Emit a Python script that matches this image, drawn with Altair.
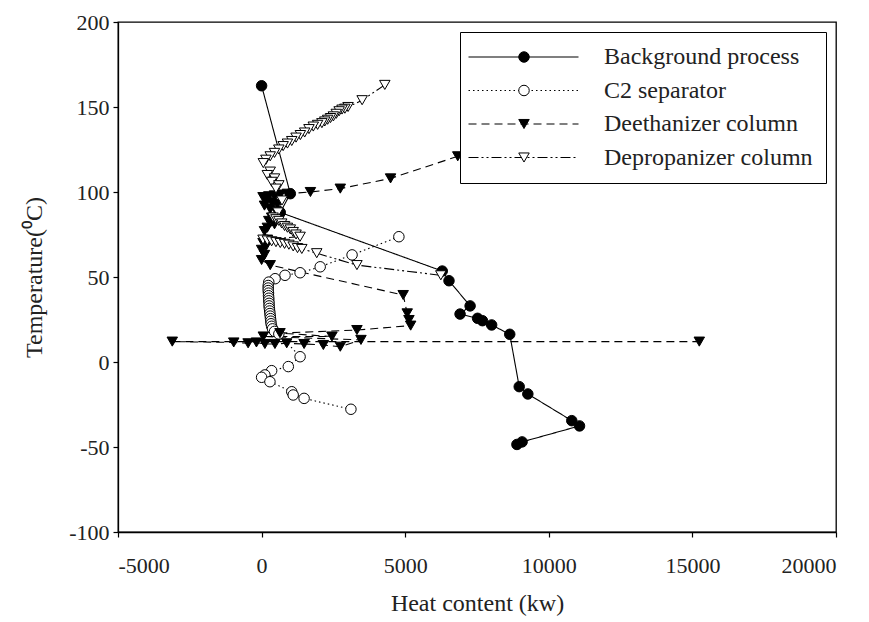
import altair as alt
import pandas as pd

series_names = ["Background process", "C2 separator", "Deethanizer column", "Depropanizer column"]
marker_names = [s + " " for s in series_names]

# Background process (filled circles, solid line)
bg_x = [0, 1000, 650, 6290, 6525, 7260, 6910, 7520, 7690, 8010, 8640, 8970, 9270, 10800, 11070, 9070, 8890]
bg_y = [162.5, 99, 88, 53.5, 47.8, 33, 28.2, 25.7, 24.3, 21.8, 16.3, -14.5, -18.8, -34.5, -37.6, -47, -48.5]

# C2 separator (open circles, dotted line)
c2_x = [4780, 3150, 2040, 1340, 815, 470, 250,
        230, 230, 230, 240, 240, 250, 250, 260, 260, 270, 280, 290, 300, 310, 320, 330, 350, 380, 450, 600,
        1340, 930, 350, 115, 0, 290, 1050, 1100, 1480, 3110]
c2_y = [73.7, 63, 56, 52.5, 51, 49, 47,
        45, 43.5, 42, 40.5, 39, 37.5, 36, 34.5, 33, 31.5, 30, 28.5, 27, 25.5, 24, 22.5, 21, 19.5, 18, 16.5,
        3.1, -2.7, -5.1, -7.6, -9, -11.6, -17.5, -19.4, -21.4, -27.8]

# Deethanizer column (filled down-triangles, dashed line)
de_x = [6830, 4490, 2740, 1700, 900, 650, 450, 250, 50, 150, 350, 550, 100, 300, 500,
        350, 250, 450, 200, 100,
        200, 50, 150, 0, 100, 0, 300,
        4930, 5070, 5130, 5190, 3320, 640, 2450, 60, 3460, 2740, 2150, 1480, 875, 465, 115,
        -180, -470, -970, -3110, 15240]
de_y = [121, 108, 102, 100, 99, 98.5, 98, 97.5, 97, 95, 94, 93, 92, 90, 89,
        85, 83, 81, 79, 77,
        72, 70, 68, 66, 63, 60, 57,
        39.4, 28.6, 24.7, 21.4, 18.8, 17, 15, 15, 13, 9, 10, 10.6, 11, 10.6, 10.6,
        11.5, 11, 11.5, 12, 12]

# Depropanizer column (open down-triangles, dash-dot line)
dp_x = [4290, 3500, 3010, 2900, 2800, 2700, 2600, 2500, 2400, 2300, 2200, 2100, 1950, 1800, 1650, 1500,
        1350, 1200, 1050, 900, 750, 600, 450, 300, 150, 60,
        300, 200, 450, 350, 600, 500, 710, 570,
        400, 500, 600, 700, 800, 900, 1000, 1100, 1200, 1340,
        50, 200, 350, 500, 650, 800, 950, 1100, 1250, 1400,
        1920, 3320, 6240]
dp_y = [163, 154, 150, 149, 148.5, 147.5, 146, 144.5, 143.5, 142.5, 141.5, 140.5, 139.5, 138.5, 137, 135,
        133.5, 132, 130, 128.5, 127, 125, 123, 121, 119, 117,
        112, 110, 108, 106, 104, 102, 95, 88,
        85, 84, 83, 81.5, 80, 79, 78, 76.5, 75, 73.7,
        72, 71.5, 71, 70.5, 70, 69.5, 69, 68, 67, 66.5,
        64, 57, 51]

x_ticks = [-5000, 0, 5000, 10000, 15000, 20000]
y_ticks = [-100, -50, 0, 50, 100, 150, 200]

rows = []
for name, mname, xs, ys in zip(series_names, marker_names, [bg_x, c2_x, de_x, dp_x], [bg_y, c2_y, de_y, dp_y]):
    for i, (xv, yv) in enumerate(zip(xs, ys)):
        rows.append({"x": xv, "y": yv, "series": name, "marker": mname, "i": i})
df = pd.DataFrame(rows)

FONT = "Liberation Serif"
LEG_PAD = 13
LEG_ROWPAD = 9.5

xenc = alt.X("x:Q", scale=alt.Scale(domain=[-5000, 20000], nice=False),
             axis=alt.Axis(values=x_ticks, title="Heat content (kw)", grid=False,
                           labelExpr="'' + datum.value",
                           labelPadding=18, titlePadding=15))
yenc = alt.Y("y:Q", scale=alt.Scale(domain=[-100, 200], nice=False),
             axis=alt.Axis(values=y_ticks, title="Temperature(⁰C)", grid=False,
                           labelExpr="'' + datum.value",
                           labelPadding=4, titlePadding=22))

lines = alt.Chart(df).mark_line(color="black", strokeWidth=1.1).encode(
    x=xenc, y=yenc, order="i:Q",
    strokeDash=alt.StrokeDash(
        "series:N",
        scale=alt.Scale(domain=series_names,
                        range=[[1, 0], [1.5, 3], [8, 5], [10, 3, 2, 3, 2, 3]]),
        legend=alt.Legend(title=None, orient="none", legendX=342, legendY=10,
                          padding=LEG_PAD, fillColor="white", strokeColor="black",
                          rowPadding=LEG_ROWPAD, labelOffset=107, labelFontSize=24, labelFont=FONT,
                          labelColor="#222", symbolType="M-3,0L17,0", symbolSize=121,
                          symbolFillColor="transparent",
                          symbolStrokeColor="black", symbolStrokeWidth=1.2, labelLimit=400),
    ),
)

marker_legend = alt.Legend(title=None, orient="none", legendX=381, legendY=10,
                           padding=LEG_PAD, rowPadding=LEG_ROWPAD, labelOffset=27, labelFontSize=24,
                           labelFont=FONT, labelExpr="''", symbolSize=110,
                           symbolStrokeColor="black", symbolStrokeWidth=1, labelLimit=400)

points = alt.Chart(df).mark_point(filled=True, stroke="black", strokeWidth=1, size=110, opacity=1).encode(
    x=xenc, y=yenc,
    shape=alt.Shape("marker:N",
                    scale=alt.Scale(domain=marker_names,
                                    range=["circle", "circle", "triangle-down", "triangle-down"]),
                    legend=marker_legend),
    fill=alt.Fill("marker:N",
                  scale=alt.Scale(domain=marker_names, range=["black", "white", "black", "white"]),
                  legend=marker_legend),
    stroke=alt.Stroke("marker:N",
                      scale=alt.Scale(domain=marker_names, range=["black", "black", "black", "black"]),
                      legend=marker_legend),
)

chart = alt.layer(lines, points).properties(
    width=718, height=510, autosize="none",
    padding={"left": 118, "top": 22, "right": 33, "bottom": 90},
).configure_view(stroke="black", strokeWidth=1.3).configure_axis(
    labelFont=FONT, titleFont=FONT, labelFontSize=22, titleFontSize=24,
    titleFontWeight="normal", labelColor="#222", titleColor="#222",
    domainColor="black", domainWidth=1.3, tickColor="black", tickSize=5, tickWidth=1.2,
)

chart.save("out.html", embed_options={"renderer": "svg", "actions": False})
